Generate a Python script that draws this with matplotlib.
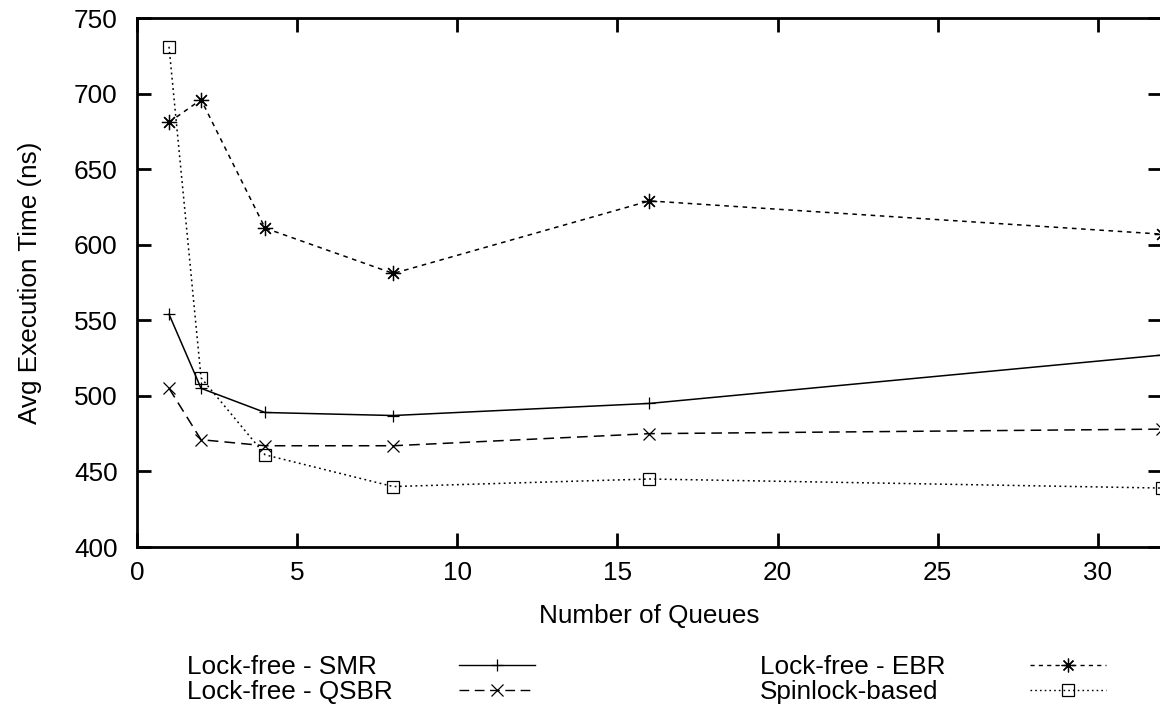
import matplotlib
matplotlib.use("Agg")
import matplotlib.pyplot as plt
from matplotlib.lines import Line2D

plt.rcParams['font.family'] = ['Liberation Sans', 'DejaVu Sans']

queues = [1, 2, 4, 8, 16, 32]
smr = [554, 505, 489, 487, 495, 527]
qsbr = [505, 471, 467, 467, 475, 478]
ebr = [681, 696, 611, 581, 629, 607]
spin = [731, 512, 461, 440, 445, 439]

labels = ["Lock-free - SMR", "Lock-free - QSBR", "Lock-free - EBR", "Spinlock-based"]
xticks = [0, 5, 10, 15, 20, 25, 30]
yticks = [400, 450, 500, 550, 600, 650, 700, 750]

FS = 18.8
star = (8, 2, 0)  # gnuplot style asterisk (+ and x)
styles = [
    dict(ls='-', marker='+', ms=9),
    dict(ls=(0, (7, 4)), marker='x', ms=9),
    dict(ls=(0, (3, 3)), marker=star, ms=11),
    dict(ls=(0, (1.2, 2.2)), marker='s', ms=9, mfc='none'),
]
series = [smr, qsbr, ebr, spin]

fig = plt.figure(figsize=(11.6, 7.07), dpi=100)
ax = fig.add_axes([0.1181, 0.2263, 0.8835, 0.7482])

for vals, st in zip(series, styles):
    ax.plot(queues, vals, color='black', lw=1.1, mew=0.9, clip_on=False, **st)

ax.set_xlim(0, 32)
ax.set_ylim(400, 750)
ax.set_xticks(xticks)
ax.set_yticks(yticks)
ax.tick_params(direction='in', length=10, width=2.0, top=True, right=True,
               labelsize=FS)
ax.tick_params(axis='y', pad=14)
ax.tick_params(axis='x', pad=10)
for s in ax.spines.values():
    s.set_linewidth(2.0)
ax.set_xlabel("Number of Queues", fontsize=FS, labelpad=14)
ax.set_ylabel("Avg Execution Time (ns)", fontsize=FS, labelpad=23)

# gnuplot style key below the plot: text first, sample after
lax = fig.add_axes([0, 0, 1, 1], facecolor='none')
lax.set_xlim(0, 1160)
lax.set_ylim(707, 0)
lax.axis('off')
key_pos = [(187, 674, 459), (187, 699, 459), (760, 674, 1030), (760, 699, 1030)]
for lab, st, (tx, ty, hx) in zip(labels, styles, key_pos):
    lax.text(tx, ty, lab, fontsize=FS, va='baseline', ha='left')
    kw = dict(st)
    marker = kw.pop('marker')
    ms = kw.pop('ms')
    mfc = kw.pop('mfc', 'black')
    hy = ty - 9.5
    lax.add_line(Line2D([hx, hx + 76], [hy, hy], color='black', lw=1.0, ls=kw['ls']))
    lax.add_line(Line2D([hx + 38], [hy], color='black', marker=marker, ms=ms * 0.9,
                        mfc=mfc, mew=0.9, ls='none'))

fig.savefig("out.png", dpi=100)
